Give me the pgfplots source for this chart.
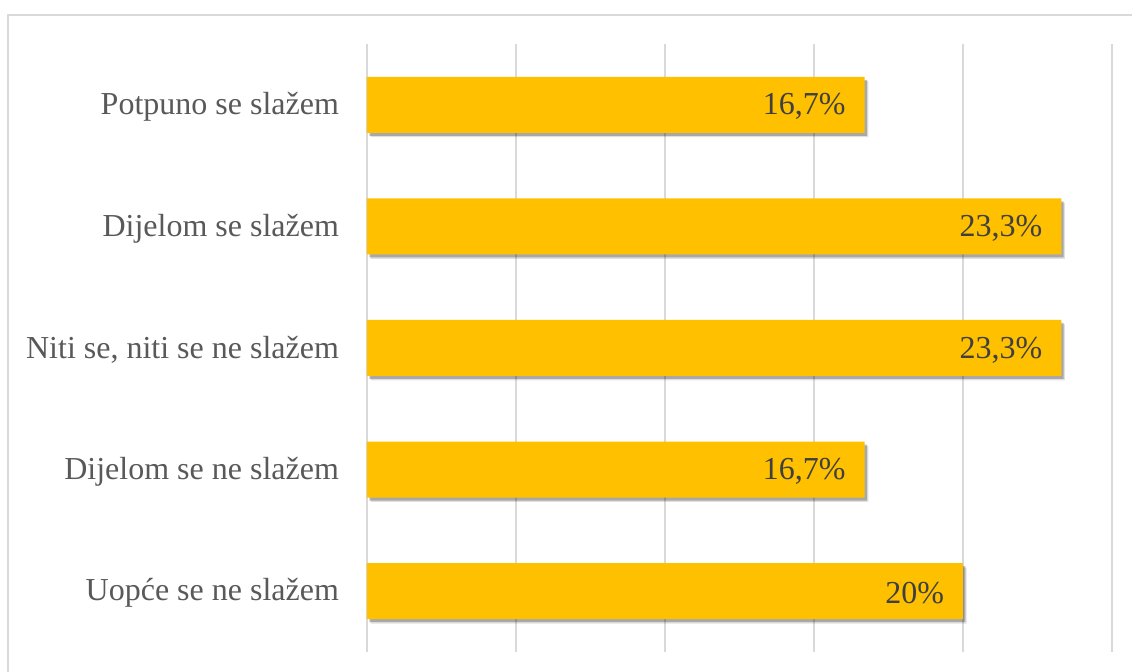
\documentclass[border=0pt]{standalone}
\usepackage{pgfplots}
\pgfplotsset{compat=1.18}
\usepackage{fontspec}
\setmainfont{Liberation Serif}
\usetikzlibrary{shadows}
\definecolor{bargold}{HTML}{FFC000}
\definecolor{gridgray}{HTML}{D9D9D9}
\definecolor{labgray}{HTML}{595959}
\definecolor{valgray}{HTML}{404040}
\begin{document}
\begin{tikzpicture}
% 1 px of the reference = 0.5pt
\useasboundingbox (0,0) rectangle (566pt,336pt);
\draw[gridgray, line width=0.8pt] (4pt,0) -- (4pt,328.5pt) -- (566pt,328.5pt);
\begin{axis}[
    at={(183.5pt,10pt)},
    anchor=south west,
    scale only axis,
    width=372.5pt,
    height=304pt,
    xbar,
    bar width=28pt,
    xmin=0, xmax=25,
    ymin=-0.5, ymax=4.5,
    y dir=reverse,
    xtick={0,5,10,15,20,25},
    xticklabels={},
    ytick={0,1,2,3,4},
    yticklabels={Potpuno se slažem, Dijelom se slažem, {Niti se, niti se ne slažem}, Dijelom se ne slažem, Uopće se ne slažem},
    yticklabel style={font=\fontsize{16}{19}\selectfont, text=labgray, xshift=-10.5pt, yshift=-1pt},
    major tick length=0pt,
    axis line style={draw=none},
    xmajorgrids,
    grid style={gridgray, line width=0.9pt},
    nodes near coords,
    point meta=explicit symbolic,
    nodes near coords style={font=\fontsize{16}{19}\selectfont, text=valgray, anchor=east, xshift=-6pt, yshift=-1pt},
    clip=false,
]
\addplot[fill=bargold, draw=none,
  drop shadow={shadow xshift=1.8pt, shadow yshift=-2.2pt, opacity=0.12, fill=black},
  drop shadow={shadow xshift=1.2pt, shadow yshift=-1.5pt, opacity=0.25, fill=black}]
  coordinates {
  (16.7,0) [16,7\%]
  (23.3,1) [23,3\%]
  (23.3,2) [23,3\%]
  (16.7,3) [16,7\%]
  (20,4) [20\%]
};
\end{axis}
\end{tikzpicture}
\end{document}
